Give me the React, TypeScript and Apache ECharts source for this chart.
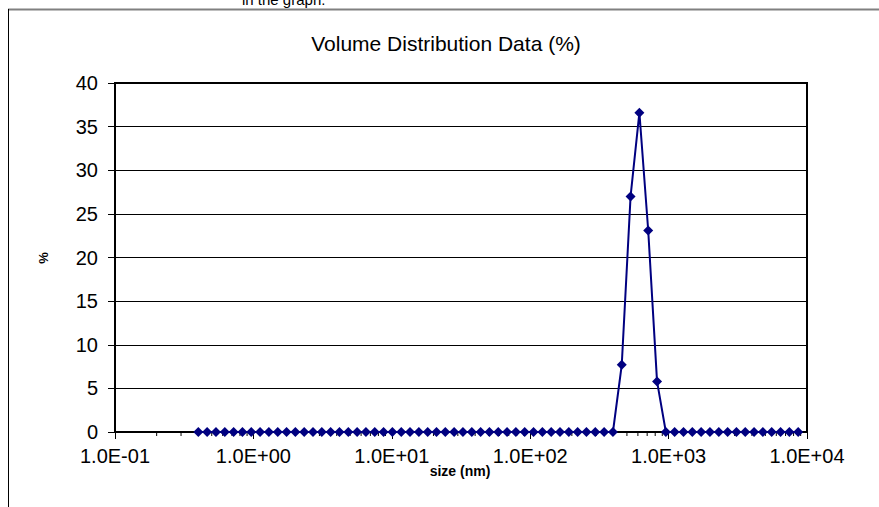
import React, { useEffect, useRef } from "react";
import * as echarts from "echarts";

const sizes: number[] = [
  0.4, 0.4632, 0.5365, 0.6213, 0.7195, 0.8332, 0.9649, 1.117, 1.294, 1.499,
  1.736, 2.01, 2.328, 2.696, 3.122, 3.615, 4.187, 4.849, 5.615, 6.503,
  7.531, 8.721, 10.1, 11.7, 13.54, 15.69, 18.17, 21.04, 24.36, 28.21,
  32.67, 37.84, 43.82, 50.75, 58.77, 68.06, 78.82, 91.28, 105.7, 122.4,
  141.8, 164.2, 190.1, 220.2, 255, 295.3, 342, 396.1, 458.7, 531.2,
  615.1, 712.4, 825, 955.4, 1106, 1281, 1484, 1718, 1990, 2305,
  2669, 3091, 3580, 4145, 4801, 5560, 6439, 7456, 8635,
];

const volume: number[] = [
  0, 0, 0, 0, 0, 0, 0, 0, 0, 0,
  0, 0, 0, 0, 0, 0, 0, 0, 0, 0,
  0, 0, 0, 0, 0, 0, 0, 0, 0, 0,
  0, 0, 0, 0, 0, 0, 0, 0, 0, 0,
  0, 0, 0, 0, 0, 0, 0, 0, 7.7, 27.0,
  36.6, 23.1, 5.8, 0, 0, 0, 0, 0, 0, 0,
  0, 0, 0, 0, 0, 0, 0, 0, 0,
];

const xTickValues: number[] = [0.1, 1, 10, 100, 1000, 10000];
const xTickLabels: string[] = ["1.0E-01", "1.0E+00", "1.0E+01", "1.0E+02", "1.0E+03", "1.0E+04"];
const minorTickValues: number[] = [
  0.2, 0.3, 0.4, 0.5, 0.6, 0.7, 0.8, 0.9,
  2, 3, 4, 5, 6, 7, 8, 9,
  20, 30, 40, 50, 60, 70, 80, 90,
  200, 300, 400, 500, 600, 700, 800, 900,
  2000, 3000, 4000, 5000, 6000, 7000, 8000, 9000,
];

const titleText = "Volume Distribution Data (%)";
const xName = "size (nm)";
const yName = "%";
const topNote = "in the graph.";

const FONT = "'Liberation Sans', Arial, sans-serif";

export default function App() {
  const ref = useRef<HTMLDivElement>(null);
  useEffect(() => {
    if (!ref.current) return;
    const chart = echarts.init(ref.current, null, { renderer: "svg" });
    const labelFor = (v: number) => {
      let best = 0;
      let bd = Infinity;
      xTickValues.forEach((t, i) => {
        const d = Math.abs(Math.log10(t) - Math.log10(v));
        if (d < bd) { bd = d; best = i; }
      });
      return bd < 0.01 ? xTickLabels[best] : "";
    };
    chart.setOption({
      animation: false,
      backgroundColor: "#fff",
      grid: {
        left: 115,
        right: 72,
        top: 83,
        bottom: 75,
        show: true,
        borderColor: "#000",
        borderWidth: 2,
        backgroundColor: "transparent",
      },
      xAxis: {
        type: "log",
        logBase: 10,
        min: 0.1,
        max: 10000,
        axisLine: { show: true, lineStyle: { color: "#000", width: 2 } },
        axisTick: { show: true, inside: false, length: 7, lineStyle: { color: "#000", width: 1 } },
        axisLabel: {
          show: true,
          margin: 14,
          color: "#000",
          fontSize: 20,
          fontFamily: FONT,
          formatter: (v: number) => labelFor(v),
        },
        splitLine: { show: false },
        minorTick: { show: false },
      },
      yAxis: {
        type: "value",
        min: 0,
        max: 40,
        interval: 5,
        axisLine: { show: true, lineStyle: { color: "#000", width: 2 } },
        axisTick: { show: true, inside: false, length: 7, lineStyle: { color: "#000", width: 1 } },
        axisLabel: { margin: 17, color: "#000", fontSize: 20, fontFamily: FONT },
        splitLine: { show: true, lineStyle: { color: "#000", width: 1 } },
      },
      series: [
        {
          type: "custom",
          silent: true,
          clip: false,
          data: minorTickValues.map((v) => [v, 0]),
          renderItem: (params: any, api: any) => {
            const p = api.coord([api.value(0), 0]);
            return {
              type: "line",
              shape: { x1: p[0], y1: p[1], x2: p[0], y2: p[1] + 4 },
              style: { stroke: "#000", lineWidth: 1 },
            };
          },
          z: 1,
        },
        {
          type: "line",
          data: sizes.map((s, i) => [s, volume[i]]),
          symbol: "diamond",
          symbolSize: 10,
          showSymbol: true,
          lineStyle: { color: "#000080", width: 2 },
          itemStyle: { color: "#000080" },
          z: 3,
        },
      ],
      graphic: [
        {
          type: "line",
          shape: { x1: 8, y1: 9.5, x2: 879, y2: 9.5 },
          style: { stroke: "#808080", lineWidth: 2 },
        },
        {
          type: "line",
          shape: { x1: 8.5, y1: 9, x2: 8.5, y2: 507 },
          style: { stroke: "#000", lineWidth: 1 },
        },
        {
          type: "text",
          x: 242,
          y: 7,
          style: { text: topNote, font: `15px ${FONT}`, fill: "#000", align: "left", verticalAlign: "bottom" },
        },
        {
          type: "text",
          x: 446,
          y: 43,
          style: { text: titleText, font: `21px ${FONT}`, fill: "#000", align: "center", verticalAlign: "middle" },
        },
        {
          type: "text",
          x: 460,
          y: 471,
          style: { text: xName, font: `bold 14px ${FONT}`, fill: "#000", align: "center", verticalAlign: "middle" },
        },
        {
          type: "text",
          x: 43,
          y: 258,
          rotation: Math.PI / 2,
          style: { text: yName, font: `bold 13px ${FONT}`, fill: "#000", align: "center", verticalAlign: "middle" },
        },
      ],
    });
    return () => chart.dispose();
  }, []);
  return (
    <div
      ref={ref}
      style={{ position: "absolute", left: 0, top: 0, width: 879, height: 507, background: "#fff" }}
    />
  );
}
